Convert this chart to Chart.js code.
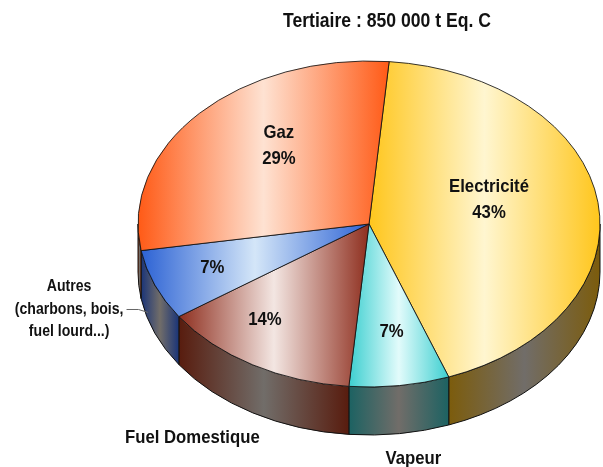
<!DOCTYPE html>
<html><head><meta charset="utf-8">
<script src="https://cdn.jsdelivr.net/npm/chart.js@4.4.1/dist/chart.umd.min.js"></script>
<style>html,body{margin:0;padding:0;background:#fff;overflow:hidden}canvas{display:block}</style>
</head><body>
<canvas id="c" width="603" height="467"></canvas>
<script>
// ---- data ----
const chartTitle = 'Tertiaire : 850 000 t Eq. C';
const categories = ['Electricité', 'Vapeur', 'Fuel Domestique', 'Autres', 'Gaz'];
const shares = [43, 7, 14, 7, 29];
const outsideLabels = [null, ['Vapeur'], ['Fuel Domestique'], ['Autres', '(charbons, bois,', 'fuel lourd...)'], null];
const nameInside = [true, false, false, false, true];

// ---- styles ----
const faceEdge = ['#ffc61c', '#3ccfd0', '#8e2e1e', '#2c62d4', '#ff5a16'];
const faceMid  = ['#fff6d0', '#e2fbfb', '#f3e6e2', '#d4e6f8', '#fee2d2'];
const sideEdge = ['#7c5c0c', '#1c6262', '#581c0e', '#1a3478', '#8a3410'];
const sideMid = '#716d69';
const GEO = {cx: 369, cy: 224, rx: 231, ry: 163, depth: 48};
const LABEL_TWEAK = [{da: -8.2, f: 0.54}, {da: -0.8, f: 0.67}, {da: 7.3, f: 0.74}, {da: 0.4, f: 0.73}, {da: 8.2, f: 0.62}];
const OUT_F = [null, 1.45, 1.52, 1.4, null];
const TEXT_SX = 0.88;
const FONT = '"Liberation Sans", Arial, sans-serif';

function sText(ctx, t, x, y) {
  ctx.save(); ctx.translate(x, y); ctx.scale(TEXT_SX, 1); ctx.fillText(t, 0, 0); ctx.restore();
}

const pie3d = {
  id: 'pie3d',
  beforeDatasetsDraw(chart) {
    const ctx = chart.ctx;
    const meta = chart.getDatasetMeta(0);
    const a0 = meta.data[0];
    const R = a0.outerRadius, ox = a0.x, oy = a0.y;
    const {cx, cy, rx, ry, depth} = GEO;
    // sides
    meta.data.forEach((arc, i) => {
      const s = arc.startAngle, e = arc.endAngle;
      for (let k = -1; k <= 1; k++) {
        const f0 = 2 * Math.PI * k, f1 = f0 + Math.PI;
        const b1 = Math.max(s, f0), b2 = Math.min(e, f1);
        if (b2 - b1 <= 1e-6) continue;
        const xA = cx + rx * Math.cos(b1), xB = cx + rx * Math.cos(b2);
        const xl = Math.min(xA, xB), xr = Math.max(xA, xB);
        const g = ctx.createLinearGradient(xl, 0, xr, 0);
        g.addColorStop(0, sideEdge[i]); g.addColorStop(0.5, sideMid); g.addColorStop(1, sideEdge[i]);
        ctx.beginPath();
        ctx.ellipse(cx, cy, rx, ry, 0, b1, b2, false);
        ctx.lineTo(cx + rx * Math.cos(b2), cy + ry * Math.sin(b2) + depth);
        ctx.ellipse(cx, cy + depth, rx, ry, 0, b2, b1, true);
        ctx.closePath();
        ctx.fillStyle = g; ctx.fill();
        ctx.lineWidth = 1; ctx.strokeStyle = '#111'; ctx.stroke();
      }
    });
    // face gradients (in chart coords)
    meta.data.forEach((arc, i) => {
      const s = arc.startAngle, e = arc.endAngle;
      const angs = [s, e];
      for (let k = -2; k <= 4; k++) { const a = k * Math.PI; if (a > s && a < e) angs.push(a); }
      const xs = angs.map(a => ox + R * Math.cos(a)); xs.push(ox);
      const xl = Math.min(...xs), xr = Math.max(...xs);
      const g = ctx.createLinearGradient(xl, 0, xr, 0);
      g.addColorStop(0, faceEdge[i]); g.addColorStop(0.5, faceMid[i]); g.addColorStop(1, faceEdge[i]);
      arc.options.backgroundColor = g;
    });
    ctx.save();
    ctx.translate(cx, cy);
    ctx.scale(rx / R, ry / R);
    ctx.translate(-ox, -oy);
  },
  afterDatasetsDraw(chart) {
    const ctx = chart.ctx;
    ctx.restore();
    const meta = chart.getDatasetMeta(0);
    const {cx, cy, rx, ry, depth} = GEO;
    ctx.fillStyle = '#111';
    ctx.textAlign = 'center';
    ctx.textBaseline = 'middle';
    // title
    ctx.font = 'bold 20px ' + FONT;
    sText(ctx, chartTitle, 387, 21);
    meta.data.forEach((arc, i) => {
      const mid = (arc.startAngle + arc.endAngle) / 2;
      // inside
      const tw = LABEL_TWEAK[i];
      const m = mid + tw.da * Math.PI / 180;
      const px = cx + tw.f * rx * Math.cos(m), py = cy + tw.f * ry * Math.sin(m);
      const lines = nameInside[i] ? [categories[i], shares[i] + '%'] : [shares[i] + '%'];
      ctx.font = 'bold 19px ' + FONT;
      const lh = 26;
      lines.forEach((t, j) => sText(ctx, t, px, py + (j - (lines.length - 1) / 2) * lh));
      // outside
      if (outsideLabels[i]) {
        const F = OUT_F[i];
        const qx = cx + F * rx * Math.cos(mid), qy = cy + F * ry * Math.sin(mid);
        const ol = outsideLabels[i];
        const multi = ol.length > 1;
        ctx.font = (multi ? 'bold 16px ' : 'bold 19px ') + FONT;
        const olh = 22.5;
        ol.forEach((t, j) => sText(ctx, t, qx, qy + (j - (ol.length - 1) / 2) * olh));
        if (multi) {
          const w = Math.max(...ol.map(t => ctx.measureText(t).width)) * TEXT_SX;
          const sx0 = qx + w / 2 + 3;
          const ea = mid + 5 * Math.PI / 180;
          const ex = cx + rx * Math.cos(ea), ey = cy + ry * Math.sin(ea) + depth * 0.85;
          ctx.beginPath();
          ctx.moveTo(sx0, qy); ctx.lineTo(sx0 + 12, qy); ctx.lineTo(ex, ey);
          ctx.strokeStyle = '#666'; ctx.lineWidth = 1; ctx.stroke();
        }
      }
    });
  }
};

new Chart(document.getElementById('c'), {
  type: 'pie',
  data: {
    labels: categories,
    datasets: [{ data: shares, backgroundColor: faceEdge, borderColor: '#111', borderWidth: 1, clip: false }]
  },
  options: {
    responsive: false,
    animation: false,
    events: [],
    rotation: 5,
    plugins: { legend: { display: false }, tooltip: { enabled: false }, title: { display: false } }
  },
  plugins: [pie3d]
});
</script>
</body></html>
